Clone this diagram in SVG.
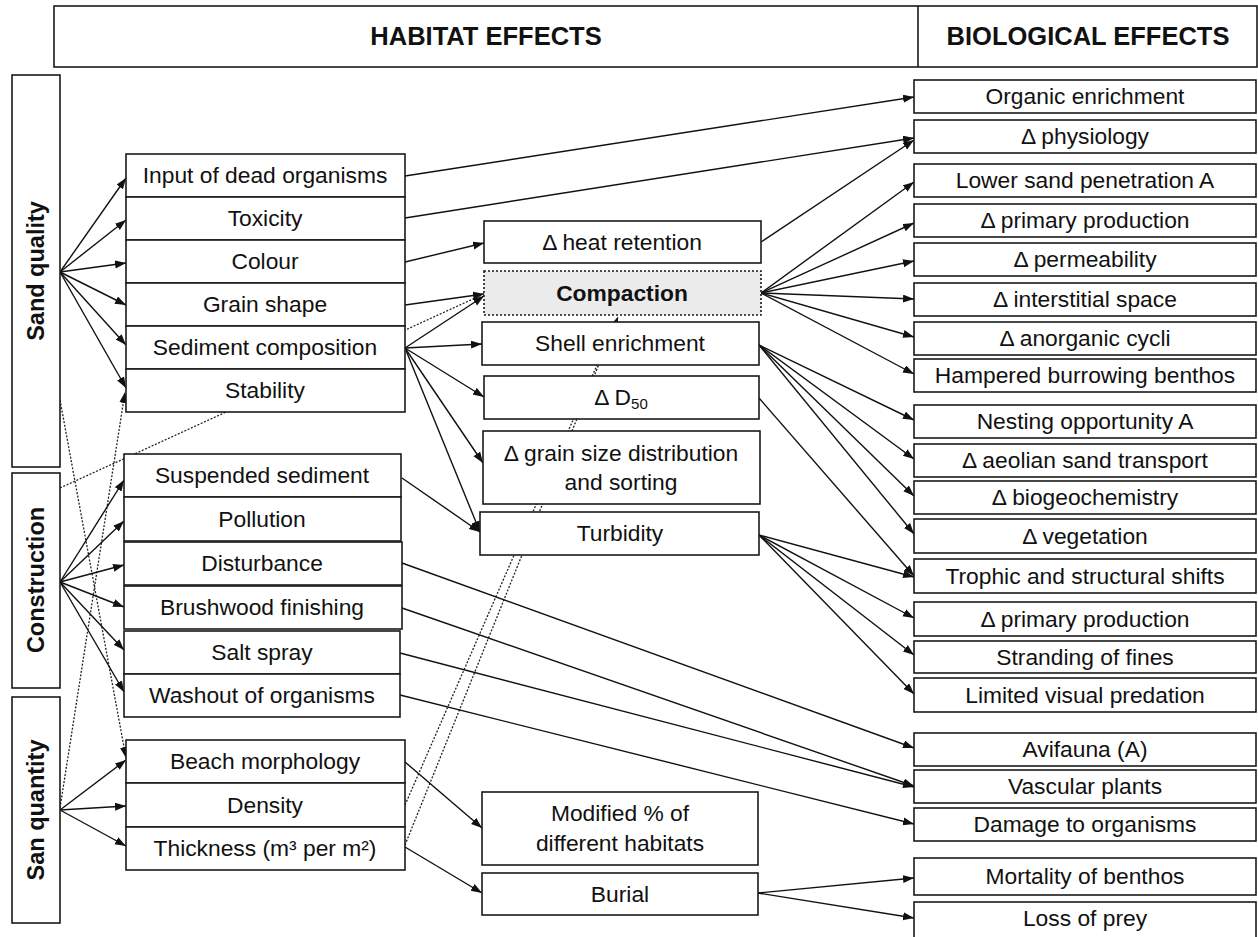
<svg xmlns="http://www.w3.org/2000/svg" width="1258" height="937" viewBox="0 0 1258 937">
<style>
.bx{fill:#fff;stroke:#1a1a1a;stroke-width:1.6}
.cp{fill:#ebebeb;stroke:#1a1a1a;stroke-width:1.6;stroke-dasharray:2 2}
.t{font-family:"Liberation Sans",Arial,sans-serif;font-size:22.8px;fill:#111;text-anchor:middle}
.h{font-family:"Liberation Sans",Arial,sans-serif;font-size:25.5px;font-weight:bold;fill:#111;text-anchor:middle}
.v{font-family:"Liberation Sans",Arial,sans-serif;font-size:23.5px;font-weight:bold;fill:#111;text-anchor:middle}
.b{font-weight:bold}
.c{stroke:#111;stroke-width:1.4;fill:none;marker-end:url(#ah)}
.d{stroke:#222;stroke-width:1.3;fill:none;stroke-dasharray:2 1.6}
.da{marker-end:url(#ah)}
</style>
<defs>
<marker id="ah" markerUnits="userSpaceOnUse" markerWidth="12" markerHeight="9" refX="11" refY="4" orient="auto">
<path d="M0,0 L11,4 L0,8 z" fill="#111"/>
</marker>
</defs>
<rect width="1258" height="937" fill="#fff"/>

<g id="connectors">
<line class="d" x1="60" y1="488" x2="484" y2="294"/>
<line class="d da" x1="60" y1="400" x2="126" y2="758"/>
<line class="d da" x1="60" y1="808" x2="125" y2="392"/>
<line class="d da" x1="405" y1="805" x2="618" y2="317"/>
<line class="d da" x1="405" y1="845" x2="618" y2="317"/>

<line class="c" x1="60" y1="272" x2="126" y2="178"/>
<line class="c" x1="60" y1="272" x2="126" y2="220"/>
<line class="c" x1="60" y1="272" x2="126" y2="263"/>
<line class="c" x1="60" y1="272" x2="126" y2="305"/>
<line class="c" x1="60" y1="272" x2="126" y2="345"/>
<line class="c" x1="60" y1="272" x2="126" y2="388"/>

<line class="c" x1="60" y1="582" x2="124" y2="480"/>
<line class="c" x1="60" y1="582" x2="124" y2="521"/>
<line class="c" x1="60" y1="582" x2="124" y2="565"/>
<line class="c" x1="60" y1="582" x2="124" y2="607"/>
<line class="c" x1="60" y1="582" x2="124" y2="650"/>
<line class="c" x1="60" y1="582" x2="124" y2="692"/>

<line class="c" x1="60" y1="810" x2="126" y2="760"/>
<line class="c" x1="60" y1="810" x2="126" y2="806"/>
<line class="c" x1="60" y1="810" x2="126" y2="846"/>

<line class="c" x1="405" y1="176" x2="914" y2="97"/>
<line class="c" x1="405" y1="218" x2="914" y2="138"/>
<line class="c" x1="405" y1="262" x2="484" y2="243"/>
<line class="c" x1="405" y1="305" x2="484" y2="294"/>
<line class="c" x1="405" y1="348" x2="484" y2="296"/>
<line class="c" x1="405" y1="348" x2="482" y2="344"/>
<line class="c" x1="405" y1="348" x2="484" y2="397"/>
<line class="c" x1="405" y1="348" x2="483" y2="463"/>
<line class="c" x1="405" y1="348" x2="480" y2="532"/>
<line class="c" x1="402" y1="478" x2="480" y2="532"/>

<line class="c" x1="761" y1="242" x2="914" y2="140"/>
<line class="c" x1="761" y1="293" x2="914" y2="182"/>
<line class="c" x1="761" y1="293" x2="914" y2="223"/>
<line class="c" x1="761" y1="293" x2="914" y2="261"/>
<line class="c" x1="761" y1="293" x2="914" y2="299"/>
<line class="c" x1="761" y1="293" x2="914" y2="337"/>
<line class="c" x1="761" y1="293" x2="914" y2="374"/>

<line class="c" x1="759" y1="345" x2="914" y2="420"/>
<line class="c" x1="759" y1="345" x2="914" y2="459"/>
<line class="c" x1="759" y1="345" x2="914" y2="496"/>
<line class="c" x1="759" y1="345" x2="914" y2="534"/>
<line class="c" x1="759" y1="398" x2="914" y2="576"/>

<line class="c" x1="759" y1="535" x2="914" y2="577"/>
<line class="c" x1="759" y1="535" x2="914" y2="618"/>
<line class="c" x1="759" y1="535" x2="914" y2="655"/>
<line class="c" x1="759" y1="535" x2="914" y2="694"/>

<line class="c" x1="402" y1="563" x2="914" y2="748"/>
<line class="c" x1="402" y1="608" x2="914" y2="786"/>
<line class="c" x1="400" y1="653" x2="914" y2="787"/>
<line class="c" x1="400" y1="695" x2="914" y2="824"/>

<line class="c" x1="405" y1="762" x2="482" y2="828"/>
<line class="c" x1="405" y1="847" x2="482" y2="893"/>
<line class="c" x1="758" y1="893" x2="914" y2="878"/>
<line class="c" x1="758" y1="893" x2="914" y2="918"/>
</g>

<g id="header">
<rect class="bx" x="54" y="6" width="1203" height="61"/>
<line x1="918" y1="6" x2="918" y2="67" stroke="#1a1a1a" stroke-width="1.6"/>
<text class="h" x="486" y="45">HABITAT EFFECTS</text>
<text class="h" x="1088" y="45">BIOLOGICAL EFFECTS</text>
</g>

<g id="sand-quality"><rect class="bx" x="12" y="75" width="48" height="392"/><text class="v" transform="translate(44,271) rotate(-90)">Sand quality</text></g>
<g id="construction"><rect class="bx" x="12" y="473" width="48" height="215"/><text class="v" transform="translate(44,580) rotate(-90)">Construction</text></g>
<g id="san-quantity"><rect class="bx" x="12" y="697" width="48" height="226"/><text class="v" transform="translate(44,810) rotate(-90)">San quantity</text></g>

<g id="input-dead"><rect class="bx" x="126" y="154" width="279" height="43"/><text class="t" x="265" y="183">Input of dead organisms</text></g>
<g id="toxicity"><rect class="bx" x="126" y="197" width="279" height="43"/><text class="t" x="265" y="226">Toxicity</text></g>
<g id="colour"><rect class="bx" x="126" y="240" width="279" height="43"/><text class="t" x="265" y="269">Colour</text></g>
<g id="grain-shape"><rect class="bx" x="126" y="283" width="279" height="43"/><text class="t" x="265" y="312">Grain shape</text></g>
<g id="sediment-composition"><rect class="bx" x="126" y="326" width="279" height="43"/><text class="t" x="265" y="355">Sediment composition</text></g>
<g id="stability"><rect class="bx" x="126" y="369" width="279" height="43"/><text class="t" x="265" y="398">Stability</text></g>

<g id="suspended-sediment"><rect class="bx" x="124" y="454" width="277" height="43"/><text class="t" x="262" y="483">Suspended sediment</text></g>
<g id="pollution"><rect class="bx" x="124" y="497" width="277" height="44"/><text class="t" x="262" y="527">Pollution</text></g>
<g id="disturbance"><rect class="bx" x="124" y="542" width="278" height="43"/><text class="t" x="262" y="571">Disturbance</text></g>
<g id="brushwood"><rect class="bx" x="124" y="586" width="278" height="43"/><text class="t" x="262" y="615">Brushwood finishing</text></g>
<g id="salt-spray"><rect class="bx" x="124" y="631" width="276" height="43"/><text class="t" x="262" y="660">Salt spray</text></g>
<g id="washout"><rect class="bx" x="124" y="674" width="276" height="43"/><text class="t" x="262" y="703">Washout of organisms</text></g>

<g id="beach-morphology"><rect class="bx" x="126" y="740" width="279" height="43"/><text class="t" x="265" y="769">Beach morphology</text></g>
<g id="density"><rect class="bx" x="126" y="783" width="279" height="44"/><text class="t" x="265" y="813">Density</text></g>
<g id="thickness"><rect class="bx" x="126" y="827" width="279" height="43"/><text class="t" x="265" y="856">Thickness (m³ per m²)</text></g>

<g id="heat-retention"><rect class="bx" x="484" y="221" width="277" height="42"/><text class="t" x="622" y="250">Δ heat retention</text></g>
<g id="compaction"><rect class="cp" x="484" y="271" width="277" height="44"/><text class="t b" x="622" y="301">Compaction</text></g>
<g id="shell-enrichment"><rect class="bx" x="482" y="322" width="277" height="43"/><text class="t" x="620" y="351">Shell enrichment</text></g>
<g id="d50"><rect class="bx" x="484" y="376" width="275" height="43"/><text class="t" x="621" y="405">Δ D<tspan font-size="15" dy="4">50</tspan></text></g>
<g id="grain-size"><rect class="bx" x="483" y="431" width="277" height="73"/><text class="t" x="621" y="461">Δ grain size distribution</text><text class="t" x="621" y="490">and sorting</text></g>
<g id="turbidity"><rect class="bx" x="480" y="512" width="279" height="43"/><text class="t" x="620" y="541">Turbidity</text></g>
<g id="modified"><rect class="bx" x="482" y="792" width="276" height="73"/><text class="t" x="620" y="821">Modified % of</text><text class="t" x="620" y="851">different habitats</text></g>
<g id="burial"><rect class="bx" x="482" y="873" width="276" height="42"/><text class="t" x="620" y="902">Burial</text></g>

<g id="organic-enrichment"><rect class="bx" x="914" y="80" width="342" height="33"/><text class="t" x="1085" y="104">Organic enrichment</text></g>
<g id="physiology"><rect class="bx" x="914" y="120" width="342" height="33"/><text class="t" x="1085" y="144">Δ physiology</text></g>
<g id="lower-sand"><rect class="bx" x="914" y="164" width="342" height="33"/><text class="t" x="1085" y="188">Lower sand penetration A</text></g>
<g id="primary-production-1"><rect class="bx" x="914" y="204" width="342" height="33"/><text class="t" x="1085" y="228">Δ primary production</text></g>
<g id="permeability"><rect class="bx" x="914" y="243" width="342" height="33"/><text class="t" x="1085" y="267">Δ permeability</text></g>
<g id="interstitial"><rect class="bx" x="914" y="283" width="342" height="33"/><text class="t" x="1085" y="307">Δ interstitial space</text></g>
<g id="anorganic"><rect class="bx" x="914" y="322" width="342" height="33"/><text class="t" x="1085" y="346">Δ anorganic cycli</text></g>
<g id="hampered"><rect class="bx" x="914" y="359" width="342" height="33"/><text class="t" x="1085" y="383">Hampered burrowing benthos</text></g>
<g id="nesting"><rect class="bx" x="914" y="405" width="342" height="33"/><text class="t" x="1085" y="429">Nesting opportunity A</text></g>
<g id="aeolian"><rect class="bx" x="914" y="444" width="342" height="33"/><text class="t" x="1085" y="468">Δ aeolian sand transport</text></g>
<g id="biogeochemistry"><rect class="bx" x="914" y="481" width="342" height="33"/><text class="t" x="1085" y="505">Δ biogeochemistry</text></g>
<g id="vegetation"><rect class="bx" x="914" y="519" width="342" height="34"/><text class="t" x="1085" y="544">Δ vegetation</text></g>
<g id="trophic"><rect class="bx" x="914" y="559" width="342" height="34"/><text class="t" x="1085" y="584">Trophic and structural shifts</text></g>
<g id="primary-production-2"><rect class="bx" x="914" y="602" width="342" height="34"/><text class="t" x="1085" y="627">Δ primary production</text></g>
<g id="stranding"><rect class="bx" x="914" y="641" width="342" height="32"/><text class="t" x="1085" y="665">Stranding of fines</text></g>
<g id="visual-predation"><rect class="bx" x="914" y="678" width="342" height="34"/><text class="t" x="1085" y="703">Limited visual predation</text></g>
<g id="avifauna"><rect class="bx" x="914" y="733" width="342" height="33"/><text class="t" x="1085" y="757">Avifauna (A)</text></g>
<g id="vascular"><rect class="bx" x="914" y="770" width="342" height="33"/><text class="t" x="1085" y="794">Vascular plants</text></g>
<g id="damage"><rect class="bx" x="914" y="808" width="342" height="33"/><text class="t" x="1085" y="832">Damage to organisms</text></g>
<g id="mortality"><rect class="bx" x="914" y="858" width="342" height="37"/><text class="t" x="1085" y="884">Mortality of benthos</text></g>
<g id="loss-prey"><rect class="bx" x="914" y="902" width="342" height="45"/><text class="t" x="1085" y="926">Loss of prey</text></g>
</svg>
